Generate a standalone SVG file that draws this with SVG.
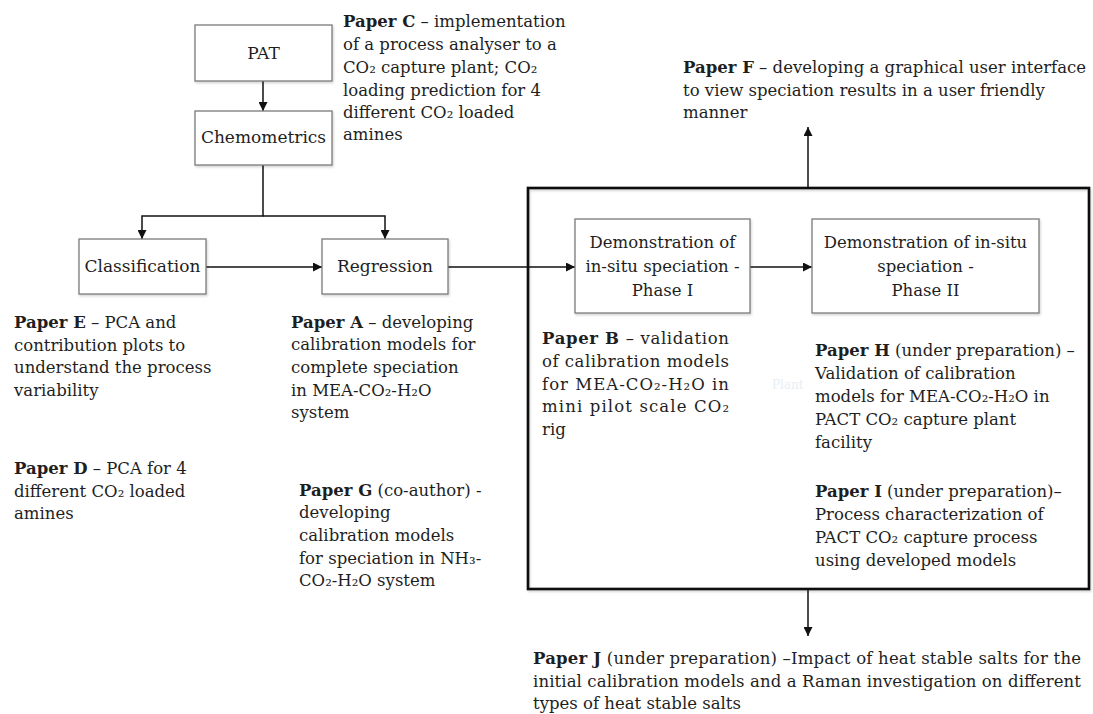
<svg xmlns="http://www.w3.org/2000/svg" width="1093" height="714" viewBox="0 0 1093 714">
  <style>
    .node { fill: #ffffff; stroke: #7a7a7a; stroke-width: 1.3; }
    .frame { fill: none; stroke: #111111; stroke-width: 2.6; }
    .lbl { font-family: "DejaVu Serif", "Liberation Serif", serif; font-size: 16.5px; fill: #1e1e1e; }
    .box-lbl { font-size: 17px; }
    .mid { text-anchor: middle; }
    .b { font-weight: bold; }
    .wire { fill: none; stroke: #111111; stroke-width: 1.5; }
    .ghost { font-family: "DejaVu Serif", serif; font-size: 12px; fill: #e9eef6; }
  </style>
  <defs>
    <marker id="arrow" viewBox="0 0 10 10" refX="10" refY="5" markerWidth="9" markerHeight="9" markerUnits="userSpaceOnUse" orient="auto">
      <path d="M0,0 L10,5 L0,10 z" fill="#111111"/>
    </marker>
    <filter id="shadow" x="-10%" y="-10%" width="130%" height="130%">
      <feDropShadow dx="1" dy="1.5" stdDeviation="1" flood-color="#000" flood-opacity="0.18"/>
    </filter>
  </defs>

  <rect width="1093" height="714" fill="#ffffff"/>

  <!-- enclosing frame around the in-situ demonstration phases -->
  <g id="frame">
    <rect class="frame" x="528" y="188" width="561" height="401" filter="url(#shadow)"/>
  </g>

  <!-- connectors -->
  <g id="connectors">
    <path class="wire" d="M263,81 V111" marker-end="url(#arrow)"/>
    <path class="wire" d="M263,165 V216 H142 V239" marker-end="url(#arrow)"/>
    <path class="wire" d="M263,216 H385 V239" marker-end="url(#arrow)"/>
    <path class="wire" d="M206,267 H322" marker-end="url(#arrow)"/>
    <path class="wire" d="M448,267 H575" marker-end="url(#arrow)"/>
    <path class="wire" d="M750,267 H812" marker-end="url(#arrow)"/>
    <path class="wire" d="M808,188 V127" marker-end="url(#arrow)"/>
    <path class="wire" d="M808,589 V636" marker-end="url(#arrow)"/>
  </g>

  <g id="pat">
    <rect class="node" x="195" y="25" width="137" height="56" filter="url(#shadow)"/>
    <text class="lbl box-lbl mid" x="263.5" y="59">PAT</text>
  </g>

  <g id="chemometrics">
    <rect class="node" x="195" y="111" width="137" height="54" filter="url(#shadow)"/>
    <text class="lbl box-lbl mid" x="263.5" y="143">Chemometrics</text>
  </g>

  <g id="classification">
    <rect class="node" x="79" y="239" width="127" height="55" filter="url(#shadow)"/>
    <text class="lbl box-lbl mid" x="142.5" y="272">Classification</text>
  </g>

  <g id="regression">
    <rect class="node" x="322" y="239" width="126" height="55" filter="url(#shadow)"/>
    <text class="lbl box-lbl mid" x="385" y="272">Regression</text>
  </g>

  <g id="phase1">
    <rect class="node" x="575" y="219" width="175" height="94" filter="url(#shadow)"/>
    <text class="lbl mid" x="662.5" y="248">Demonstration of</text>
    <text class="lbl mid" x="662.5" y="272">in-situ speciation -</text>
    <text class="lbl mid" x="662.5" y="296">Phase I</text>
  </g>

  <g id="phase2">
    <rect class="node" x="812" y="219" width="227" height="94" filter="url(#shadow)"/>
    <text class="lbl mid" x="925.5" y="248">Demonstration of in-situ</text>
    <text class="lbl mid" x="925.5" y="272">speciation -</text>
    <text class="lbl mid" x="925.5" y="296">Phase II</text>
  </g>

  <!-- paper annotations -->
  <g id="paper-c">
    <text class="lbl" x="343" y="27"><tspan class="b">Paper C</tspan> – implementation</text>
    <text class="lbl" x="343" y="50">of a process analyser to a</text>
    <text class="lbl" x="343" y="73">CO₂ capture plant; CO₂</text>
    <text class="lbl" x="343" y="96">loading prediction for 4</text>
    <text class="lbl" x="343" y="118">different CO₂ loaded</text>
    <text class="lbl" x="343" y="140">amines</text>
  </g>

  <g id="paper-f">
    <text class="lbl" x="683" y="73"><tspan class="b">Paper F</tspan> – developing a graphical user interface</text>
    <text class="lbl" x="683" y="96">to view speciation results in a user friendly</text>
    <text class="lbl" x="683" y="118">manner</text>
  </g>

  <g id="paper-e">
    <text class="lbl" x="14" y="328"><tspan class="b">Paper E</tspan> – PCA and</text>
    <text class="lbl" x="14" y="351">contribution plots to</text>
    <text class="lbl" x="14" y="373">understand the process</text>
    <text class="lbl" x="14" y="396">variability</text>
  </g>

  <g id="paper-a">
    <text class="lbl" x="291" y="328"><tspan class="b">Paper A</tspan> – developing</text>
    <text class="lbl" x="291" y="350">calibration models for</text>
    <text class="lbl" x="291" y="373">complete speciation</text>
    <text class="lbl" x="291" y="396">in MEA-CO₂-H₂O</text>
    <text class="lbl" x="291" y="418">system</text>
  </g>

  <g id="paper-d">
    <text class="lbl" x="14" y="474"><tspan class="b">Paper D</tspan> – PCA for 4</text>
    <text class="lbl" x="14" y="497">different CO₂ loaded</text>
    <text class="lbl" x="14" y="519">amines</text>
  </g>

  <g id="paper-g">
    <text class="lbl" x="299" y="496"><tspan class="b">Paper G</tspan> (co-author) -</text>
    <text class="lbl" x="299" y="518">developing</text>
    <text class="lbl" x="299" y="541">calibration models</text>
    <text class="lbl" x="299" y="564">for speciation in NH₃-</text>
    <text class="lbl" x="299" y="586">CO₂-H₂O system</text>
  </g>

  <g id="paper-b">
    <text class="lbl" x="542" y="344" textLength="187" lengthAdjust="spacing"><tspan class="b">Paper B</tspan> – validation</text>
    <text class="lbl" x="542" y="367" textLength="187" lengthAdjust="spacing">of calibration models</text>
    <text class="lbl" x="542" y="390" textLength="187" lengthAdjust="spacing">for MEA-CO₂-H₂O in</text>
    <text class="lbl" x="542" y="412" textLength="187" lengthAdjust="spacing">mini pilot scale CO₂</text>
    <text class="lbl" x="542" y="435">rig</text>
  </g>

  <text class="ghost" x="772" y="389">Plant</text>

  <g id="paper-h">
    <text class="lbl" x="815" y="356"><tspan class="b">Paper H</tspan> (under preparation) –</text>
    <text class="lbl" x="815" y="379">Validation of calibration</text>
    <text class="lbl" x="815" y="402">models for MEA-CO₂-H₂O in</text>
    <text class="lbl" x="815" y="425">PACT CO₂ capture plant</text>
    <text class="lbl" x="815" y="448">facility</text>
  </g>

  <g id="paper-i">
    <text class="lbl" x="815" y="497"><tspan class="b">Paper I</tspan> (under preparation)–</text>
    <text class="lbl" x="815" y="520">Process characterization of</text>
    <text class="lbl" x="815" y="543">PACT CO₂ capture process</text>
    <text class="lbl" x="815" y="566">using developed models</text>
  </g>

  <g id="paper-j">
    <text class="lbl" x="533" y="664" textLength="548" lengthAdjust="spacing"><tspan class="b">Paper J</tspan> (under preparation) –Impact of heat stable salts for the</text>
    <text class="lbl" x="533" y="687" textLength="548" lengthAdjust="spacing">initial calibration models and a Raman investigation on different</text>
    <text class="lbl" x="533" y="709">types of heat stable salts</text>
  </g>
</svg>
